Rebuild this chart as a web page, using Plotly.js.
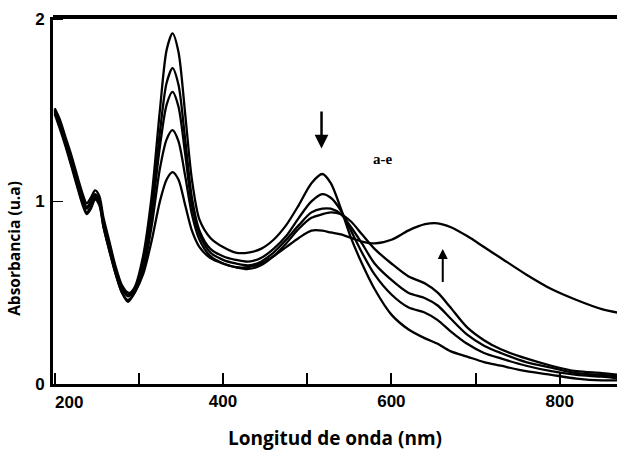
<!DOCTYPE html>
<html>
<head>
<meta charset="utf-8">
<script src="https://cdn.plot.ly/plotly-3.0.1.min.js"></script>
<style>html,body{margin:0;padding:0;background:#fff;}#chart{width:617px;height:460px;}</style>
</head>
<body>
<div id="chart"></div>
<script>
// Wavelength grid (nm)
const wavelength = [200, 206, 213, 220, 228, 234, 238, 243, 248, 253, 258, 265, 272, 280, 287,
  295, 305, 315, 325, 333, 340, 347, 355, 363, 372, 385, 400, 415, 430, 445, 460, 475, 490, 505,
  518, 528, 540, 552, 565, 580, 600, 620, 640, 655, 670, 690, 710, 730, 760, 790, 820, 850, 870];

const curveA = [1.50, 1.43, 1.33, 1.23, 1.10, 1.01, 0.97, 1.00, 1.04, 1.01, 0.89, 0.76, 0.64, 0.53, 0.49,
  0.53, 0.70, 1.02, 1.50, 1.83, 1.92, 1.82, 1.48, 1.12, 0.90, 0.80, 0.75, 0.72, 0.72, 0.74, 0.79, 0.87, 0.98, 1.10,
  1.15, 1.10, 0.96, 0.80, 0.66, 0.52, 0.38, 0.30, 0.25, 0.22, 0.18, 0.15, 0.12, 0.10, 0.07, 0.05, 0.03, 0.02, 0.02];

const curveB = [1.49, 1.42, 1.32, 1.22, 1.09, 1.00, 0.96, 0.99, 1.03, 1.00, 0.88, 0.75, 0.63, 0.52, 0.48,
  0.51, 0.66, 0.96, 1.38, 1.65, 1.73, 1.64, 1.34, 1.02, 0.84, 0.74, 0.70, 0.68, 0.67, 0.69, 0.74, 0.81, 0.91, 1.00,
  1.04, 1.02, 0.95, 0.84, 0.72, 0.60, 0.49, 0.42, 0.39, 0.35, 0.29, 0.22, 0.17, 0.14, 0.10, 0.07, 0.05, 0.04, 0.03];

const curveC = [1.51, 1.45, 1.35, 1.25, 1.12, 1.03, 0.99, 1.02, 1.06, 1.03, 0.91, 0.78, 0.65, 0.54, 0.50,
  0.51, 0.64, 0.92, 1.30, 1.53, 1.60, 1.52, 1.26, 0.98, 0.82, 0.72, 0.68, 0.66, 0.65, 0.67, 0.72, 0.79, 0.87, 0.94,
  0.96, 0.96, 0.93, 0.86, 0.77, 0.66, 0.57, 0.50, 0.47, 0.43, 0.36, 0.27, 0.21, 0.17, 0.12, 0.09, 0.06, 0.05, 0.04];

const curveD = [1.50, 1.42, 1.31, 1.20, 1.07, 0.98, 0.94, 0.97, 1.02, 0.99, 0.86, 0.73, 0.61, 0.50, 0.46,
  0.50, 0.62, 0.86, 1.18, 1.34, 1.39, 1.33, 1.14, 0.93, 0.79, 0.70, 0.66, 0.64, 0.63, 0.65, 0.70, 0.77, 0.85, 0.91,
  0.93, 0.94, 0.93, 0.89, 0.82, 0.74, 0.66, 0.59, 0.55, 0.50, 0.42, 0.31, 0.24, 0.19, 0.14, 0.10, 0.07, 0.06, 0.05];

const curveE = [1.48, 1.40, 1.30, 1.19, 1.06, 0.97, 0.93, 0.96, 1.01, 0.98, 0.86, 0.73, 0.61, 0.50, 0.45,
  0.50, 0.60, 0.78, 1.00, 1.12, 1.16, 1.12, 0.98, 0.84, 0.75, 0.69, 0.66, 0.64, 0.64, 0.66, 0.70, 0.75, 0.80, 0.84,
  0.84, 0.83, 0.82, 0.80, 0.78, 0.77, 0.79, 0.84, 0.875, 0.88, 0.86, 0.81, 0.75, 0.69, 0.60, 0.52, 0.46, 0.41, 0.39];

const curveNames = ['a', 'b', 'c', 'd', 'e'];
const curves = [curveA, curveB, curveC, curveD, curveE];

const xTickVals = [200, 300, 400, 500, 600, 700, 800];
const xTickText = ['', '', '400', '', '600', '', '800'];
const xFirstLabel = '200';
const yTickVals = [0, 1, 2];
const yTickText = ['0', '1', '2'];

const traces = curves.map((ys, i) => ({
  x: wavelength, y: ys, name: curveNames[i], type: 'scatter', mode: 'lines',
  line: {color: '#000', width: 2.3, shape: 'spline', smoothing: 0.8},
  showlegend: false, hoverinfo: 'skip'
}));

const tickFont = {family: 'Liberation Sans, Arial, sans-serif', size: 17, color: '#000', weight: 700};

const layout = {
  width: 617, height: 460,
  margin: {l: 53, r: 0, t: 17, b: 76},
  paper_bgcolor: '#fff', plot_bgcolor: '#fff',
  showlegend: false,
  xaxis: {
    range: [198, 868], showgrid: false, zeroline: false,
    showline: true, linecolor: '#000', linewidth: 3,
    ticks: 'inside', ticklen: 11, tickwidth: 2, tickcolor: '#000',
    tickvals: xTickVals, ticktext: xTickText, tickfont: tickFont,
    title: {text: '<b>Longitud de onda (nm)</b>', standoff: 22,
      font: {family: 'Open Sans, sans-serif', size: 19, color: '#000'}}
  },
  yaxis: {
    range: [0, 2.01], showgrid: false, zeroline: false,
    showline: true, linecolor: '#000', linewidth: 3,
    ticks: 'inside', ticklen: 10, tickwidth: 1.5, tickcolor: '#000',
    tickvals: yTickVals, ticktext: yTickText, tickfont: tickFont, ticklabelstandoff: 2
  },
  shapes: [
    {type: 'line', xref: 'paper', yref: 'paper', x0: 0, x1: 1, y0: 1, y1: 1,
     line: {color: '#000', width: 4}}
  ],
  annotations: [
    {xref: 'paper', yref: 'paper', x: -0.068, y: 0.37, xanchor: 'center', yanchor: 'middle',
     text: '<b>Absorbancia (u.a)</b>', textangle: -90, showarrow: false,
     font: {family: 'Open Sans, sans-serif', size: 15.5, color: '#000'}},
    {x: 200, y: 0, xref: 'x', yref: 'paper', xanchor: 'left', yanchor: 'top', yshift: -7, xshift: -2,
     text: '<b>' + xFirstLabel + '</b>', showarrow: false, font: tickFont},
    {x: 517, y: 1.29, ax: 517, ay: 1.50, axref: 'x', ayref: 'y', text: '',
     showarrow: true, arrowhead: 2, arrowsize: 1.1, arrowwidth: 2.5, arrowcolor: '#000'},
    {x: 661, y: 0.74, ax: 661, ay: 0.55, axref: 'x', ayref: 'y', text: '',
     showarrow: true, arrowhead: 2, arrowsize: 1, arrowwidth: 2, arrowcolor: '#000'},
    {x: 589, y: 1.23, text: '<b>a-e</b>', showarrow: false,
     font: {family: 'Liberation Serif, serif', size: 15, color: '#000'}}
  ]
};

Plotly.newPlot('chart', traces, layout, {staticPlot: true, displayModeBar: false});
</script>
</body>
</html>
